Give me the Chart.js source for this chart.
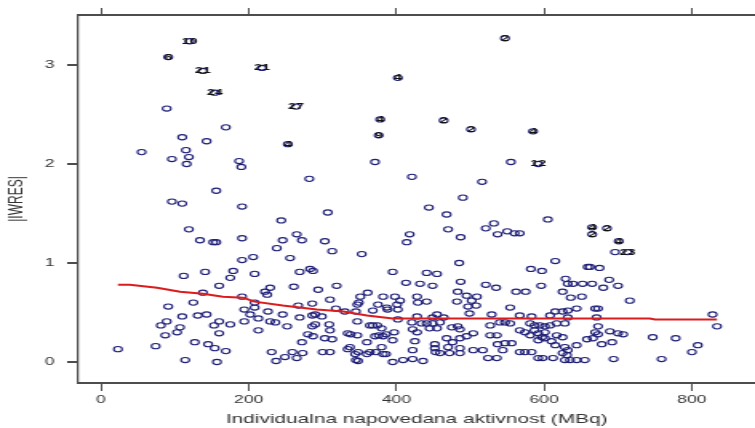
<!DOCTYPE html>
<html>
<head>
<meta charset="utf-8">
<script src="https://cdn.jsdelivr.net/npm/chart.js@4.4.1/dist/chart.umd.min.js"></script>
<style>
  html, body { margin: 0; padding: 0; background: #fff; }
</style>
</head>
<body>
<!-- drawn narrow and stretched, like the original picture -->
<canvas id="graf" width="472" height="428" style="width:755px;height:428px"></canvas>
<script>
// |IWRES| vs individualna napovedana aktivnost (MBq)
const residX = [
  89, 169, 110, 143, 55, 115, 96, 119, 116, 187, 190, 282, 156, 96, 110, 191, 307, 244, 119, 265,
  371, 421, 555, 516, 490, 444, 468, 605, 470, 521, 532, 537, 550, 560, 567, 418, 696,
  134, 152, 156, 191, 191, 112, 141, 179, 175, 160, 138, 191, 91, 125, 110, 131, 143, 89, 81, 107,
  160, 153, 175, 194, 194, 103, 87, 160, 23, 74, 127, 145, 154, 169, 114, 157,
  246, 272, 303, 238, 313, 353, 414, 206, 256, 208, 269, 283, 287, 395, 229, 222, 225, 261, 294, 319,
  413, 351, 361, 382, 398, 428, 405, 310, 208, 208, 267, 286, 347, 349, 375, 387, 401, 402, 429, 202,
  226, 246, 269, 286, 290, 299, 318, 330, 345, 368, 388, 402, 421, 428, 213, 229, 236, 252, 286, 290,
  309, 347, 364, 368, 374, 380, 422, 428, 213, 280, 287, 310, 334, 338, 347, 371, 376, 382, 386, 397,
  395, 425, 303, 313, 272, 360, 337, 334, 380, 422, 231, 259, 273, 300, 310, 344, 348, 360, 364, 372,
  382, 386, 249, 265, 237, 345, 348, 395, 409, 422,
  487, 485, 615, 582, 597, 659, 441, 455, 432, 449, 487, 521, 535, 562, 575, 596, 629, 632, 639, 652,
  625, 636, 651, 483, 495, 509, 441, 482, 502, 508, 497, 554, 499, 529, 567, 583, 608, 615, 625, 632,
  644, 455, 449, 464, 632, 434, 441, 449, 459, 445, 455, 475, 483, 486, 527, 540, 547, 554, 581, 587,
  594, 601, 608, 617, 628, 495, 504, 486, 527, 536, 567, 574, 581, 587, 592, 597, 601, 617, 625, 468,
  476, 452, 452, 470, 486, 504, 517, 537, 547, 556, 592, 601, 610, 544, 615, 628, 632, 644, 658, 453,
  459, 472, 486, 567, 574, 583, 625, 631, 524, 536, 592, 598, 628, 635, 644, 655, 436, 612,
  662, 675, 688, 665, 680, 700, 716, 669, 673, 671, 828, 834, 673, 669, 673, 689, 700, 707, 666, 747,
  778, 808, 800, 678, 692, 694, 759
];
const residY = [
  2.56, 2.37, 2.27, 2.23, 2.12, 2.14, 2.05, 2.07, 2.00, 2.03, 1.97, 1.85, 1.73, 1.62, 1.60, 1.57, 1.51, 1.43, 1.34, 1.29,
  2.02, 1.87, 2.02, 1.82, 1.66, 1.56, 1.49, 1.44, 1.34, 1.35, 1.40, 1.29, 1.32, 1.30, 1.30, 1.29, 1.11,
  1.23, 1.21, 1.21, 1.25, 1.03, 0.87, 0.91, 0.92, 0.85, 0.77, 0.70, 0.66, 0.56, 0.60, 0.46, 0.47, 0.48, 0.41, 0.37, 0.35,
  0.41, 0.37, 0.38, 0.41, 0.53, 0.30, 0.27, 0.29, 0.13, 0.16, 0.20, 0.18, 0.14, 0.11, 0.02, 0.00,
  1.23, 1.23, 1.22, 1.15, 1.12, 1.09, 1.21, 1.06, 1.05, 0.89, 0.91, 0.94, 0.92, 0.91, 0.75, 0.71, 0.68, 0.76, 0.73, 0.77,
  0.80, 0.66, 0.70, 0.66, 0.66, 0.66, 0.62, 0.63, 0.60, 0.55, 0.57, 0.59, 0.58, 0.60, 0.58, 0.55, 0.58, 0.53, 0.60, 0.48,
  0.51, 0.48, 0.45, 0.47, 0.48, 0.46, 0.54, 0.51, 0.51, 0.52, 0.53, 0.43, 0.40, 0.46, 0.44, 0.41, 0.40, 0.36, 0.36, 0.38,
  0.38, 0.41, 0.37, 0.37, 0.37, 0.34, 0.33, 0.30, 0.32, 0.28, 0.26, 0.32, 0.29, 0.28, 0.27, 0.26, 0.27, 0.26, 0.28, 0.30,
  0.22, 0.21, 0.24, 0.23, 0.20, 0.20, 0.15, 0.13, 0.15, 0.12, 0.10, 0.10, 0.09, 0.10, 0.10, 0.08, 0.10, 0.08, 0.10, 0.10,
  0.08, 0.08, 0.05, 0.04, 0.01, 0.02, 0.01, 0.00, 0.02, 0.03,
  1.26, 1.00, 1.02, 0.94, 0.92, 0.96, 0.90, 0.89, 0.79, 0.77, 0.81, 0.78, 0.75, 0.71, 0.71, 0.77, 0.84, 0.79, 0.79, 0.79,
  0.71, 0.65, 0.66, 0.71, 0.67, 0.66, 0.61, 0.61, 0.62, 0.57, 0.56, 0.55, 0.49, 0.48, 0.47, 0.46, 0.47, 0.51, 0.51, 0.52,
  0.54, 0.48, 0.45, 0.45, 0.45, 0.39, 0.39, 0.39, 0.40, 0.34, 0.34, 0.35, 0.36, 0.33, 0.37, 0.40, 0.40, 0.39, 0.39, 0.37,
  0.37, 0.36, 0.37, 0.39, 0.39, 0.26, 0.29, 0.24, 0.27, 0.27, 0.32, 0.30, 0.27, 0.32, 0.29, 0.25, 0.30, 0.27, 0.25, 0.24,
  0.20, 0.18, 0.14, 0.15, 0.14, 0.12, 0.12, 0.18, 0.19, 0.19, 0.22, 0.24, 0.21, 0.12, 0.17, 0.15, 0.12, 0.17, 0.23, 0.10,
  0.09, 0.09, 0.09, 0.10, 0.10, 0.10, 0.09, 0.07, 0.04, 0.04, 0.04, 0.04, 0.02, 0.02, 0.02, 0.02, 0.01, 0.04,
  0.96, 0.95, 0.83, 0.79, 0.75, 0.77, 0.62, 0.54, 0.54, 0.45, 0.48, 0.36, 0.36, 0.30, 0.28, 0.31, 0.29, 0.28, 0.24, 0.25,
  0.24, 0.17, 0.10, 0.18, 0.20, 0.03, 0.03
];

// points marked with their subject number
const oznakaX = [120, 91, 138, 218, 154, 264, 253, 402, 547, 378, 376, 464, 501, 585, 592, 665, 665, 685, 701, 713];
const oznakaY = [3.24, 3.08, 2.94, 2.97, 2.72, 2.58, 2.20, 2.87, 3.27, 2.45, 2.29, 2.44, 2.35, 2.33, 2.00, 1.36, 1.29, 1.35, 1.22, 1.11];
const oznakaTekst = ['10', '6', '21', '21', '24', '27', '4', '4', '2', '4', '9', '2', '2', '4', '12', '4', '2', '2', '4', '23'];

// smoother (red line)
const gladkoX = [23, 39, 76, 107, 138, 165, 192, 208, 246, 292, 328, 360, 395, 432, 540, 669, 743, 750, 834];
const gladkoY = [0.78, 0.78, 0.75, 0.71, 0.69, 0.66, 0.65, 0.61, 0.57, 0.53, 0.51, 0.47, 0.44, 0.44, 0.44, 0.44, 0.44, 0.43, 0.43];

const xTicks = [0, 200, 400, 600, 800];
const yTicks = [0, 1, 2, 3];

const pisava = '"Liberation Sans", Arial, sans-serif';
const sivo = '#4d4d4d';
const modra = '#1f1f78';

const oznake = {
  id: 'oznake',
  afterDatasetsDraw(chart) {
    const { ctx, scales: { x, y } } = chart;
    ctx.save();
    ctx.font = 'bold 9px ' + pisava;
    ctx.fillStyle = '#111';
    ctx.textAlign = 'center';
    ctx.textBaseline = 'middle';
    oznakaX.forEach((v, i) => {
      ctx.fillText(oznakaTekst[i], x.getPixelForValue(v), y.getPixelForValue(oznakaY[i]));
    });
    ctx.restore();
  }
};

const tocke = residX.map((v, i) => ({ x: v, y: residY[i] }));
const tockeOzn = oznakaX.map((v, i) => ({ x: v, y: oznakaY[i] }));
const gladko = gladkoX.map((v, i) => ({ x: v, y: gladkoY[i] }));

const ctx = document.getElementById('graf').getContext('2d');
const graf = new Chart(ctx, {
  type: 'scatter',
  data: {
    datasets: [
      {
        type: 'line',
        data: gladko,
        borderColor: '#dc1c1c',
        borderWidth: 2,
        pointRadius: 0,
        tension: 0,
        fill: false
      },
      {
        data: tocke,
        pointStyle: 'circle',
        pointRadius: 2.6,
        borderWidth: 1.1,
        borderColor: modra,
        backgroundColor: 'rgba(0,0,0,0)'
      },
      {
        data: tockeOzn,
        pointStyle: 'circle',
        pointRadius: 2.6,
        borderWidth: 1.1,
        borderColor: modra,
        backgroundColor: 'rgba(0,0,0,0)'
      }
    ]
  },
  options: {
    responsive: false,
    animation: false,
    devicePixelRatio: 1,
    layout: { autoPadding: false, padding: { top: 8, left: 0, right: 0, bottom: 0 } },
    plugins: {
      legend: { display: false },
      tooltip: { enabled: false }
    },
    scales: {
      x: {
        type: 'linear',
        position: 'bottom',
        min: -30.6,
        max: 885.5,
        afterBuildTicks: s => { s.ticks = xTicks.map(v => ({ value: v })); },
        afterFit: s => { s.height = 45; },
        grid: { drawOnChartArea: false, drawTicks: true, tickLength: 8, color: sivo, lineWidth: 1 },
        border: { display: true, color: sivo, width: 2 },
        ticks: { font: { family: pisava, size: 11 }, color: '#333', padding: 2, maxRotation: 0 },
        title: {
          display: true,
          text: 'Individualna napovedana aktivnost (MBq)',
          font: { family: pisava, size: 13 },
          color: '#333',
          padding: { top: 0, bottom: 1 }
        }
      },
      x2: {
        type: 'linear',
        position: 'top',
        min: -30.6,
        max: 885.5,
        afterBuildTicks: s => { s.ticks = xTicks.map(v => ({ value: v })); },
        grid: { drawOnChartArea: false, drawTicks: true, tickLength: 7, color: sivo, lineWidth: 1 },
        border: { display: true, color: sivo, width: 2 },
        ticks: { display: false }
      },
      y: {
        type: 'linear',
        position: 'left',
        min: -0.212,
        max: 3.505,
        afterBuildTicks: s => { s.ticks = yTicks.map(v => ({ value: v })); },
        afterFit: s => { s.width = 49; },
        grid: { drawOnChartArea: false, drawTicks: true, tickLength: 7, color: sivo, lineWidth: 2 },
        border: { display: true, color: sivo, width: 1.25 },
        ticks: { font: { family: pisava, size: 11 }, color: '#333', padding: 8 },
        title: {
          display: true,
          text: '|IWRES|',
          font: { family: pisava, size: 12 },
          color: '#333',
          padding: { top: 3.4, bottom: 0 }
        }
      }
    }
  },
  plugins: [oznake]
});
</script>
</body>
</html>
